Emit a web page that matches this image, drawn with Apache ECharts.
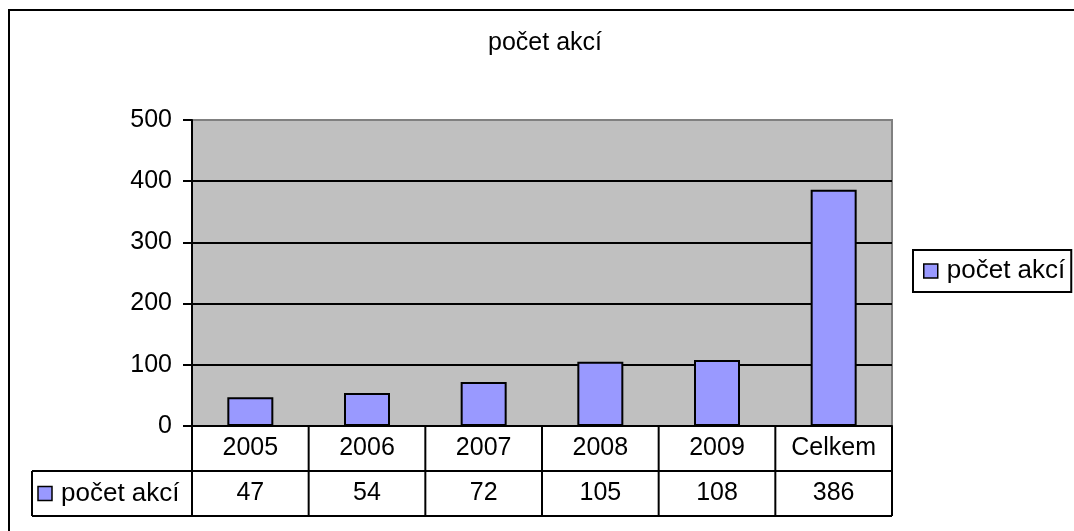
<!DOCTYPE html>
<html lang="cs">
<head>
<meta charset="utf-8" />
<title>počet akcí</title>
<script src="https://cdn.jsdelivr.net/npm/echarts@6/dist/echarts.min.js"></script>
<style>body{margin:0;background:#fff}</style>
</head>
<body>
<div id="box" style="width:1074px;height:531px"></div>
<script>
    // data
    var years = ['2005', '2006', '2007', '2008', '2009', 'Celkem'];
    var counts = [47, 54, 72, 105, 108, 386];
    var seriesName = 'počet akcí';
    var yMin = 0, yMax = 500, yStep = 100;

    var font = "'Liberation Sans', Arial, sans-serif";
    var barColor = '#9999FF';

    var myChart = echarts.init(document.getElementById('box'));
    var option = {
        backgroundColor: '#fff',
        animation: false,
        title: {
            text: seriesName,
            left: 545,
            textAlign: 'center',
            top: 31,
            padding: 0,
            textStyle: { fontFamily: font, fontSize: 25, fontWeight: 'normal', color: '#000' }
        },
        legend: {
            left: 913,
            top: 250,
            padding: [8, 6, 8, 10],
            borderColor: '#000',
            borderWidth: 2,
            itemWidth: 14,
            itemHeight: 14,
            icon: 'rect',
            itemStyle: { borderColor: '#000', borderWidth: 1.5 },
            textStyle: { fontFamily: font, fontSize: 26, color: '#000', padding: [0, 0, 0, 4] },
            data: [seriesName]
        },
        grid: {
            left: 192,
            top: 120,
            width: 700,
            height: 306,
            show: true,
            backgroundColor: '#C0C0C0',
            borderColor: '#808080',
            borderWidth: 2
        },
        xAxis: {
            type: 'category',
            data: years,
            axisLine: { lineStyle: { color: '#000', width: 2 } },
            axisTick: { show: false },
            axisLabel: { show: false }
        },
        yAxis: {
            type: 'value',
            min: yMin,
            max: yMax,
            interval: yStep,
            axisLine: { show: true, lineStyle: { color: '#000', width: 2 } },
            axisTick: { show: true, length: 9, lineStyle: { color: '#000', width: 2 } },
            axisLabel: { margin: 20, fontFamily: font, fontSize: 25, color: '#000' },
            splitLine: { show: true, showMaxLine: false, lineStyle: { color: '#000', width: 2 } }
        },
        series: [{
            name: seriesName,
            type: 'bar',
            barWidth: 46,
            data: counts,
            itemStyle: { color: barColor, borderColor: '#000', borderWidth: 2 }
        }]
    };
    myChart.setOption(option);

    // data table under the plot, placed from the category axis
    var c0 = myChart.convertToPixel({ xAxisIndex: 0 }, years[0]);
    var c1 = myChart.convertToPixel({ xAxisIndex: 0 }, years[1]);
    var band = c1 - c0;
    var x0 = c0 - band / 2;
    var y0 = myChart.convertToPixel({ yAxisIndex: 0 }, 0);
    var rowH = 45;
    var xEnd = x0 + band * years.length;
    var tableLeft = 32;
    var line = { stroke: '#000', lineWidth: 2 };
    var g = [];

    // chart border (top and left visible)
    g.push({ type: 'rect', shape: { x: 9, y: 10, width: 1200, height: 700 }, style: { fill: null, stroke: '#000', lineWidth: 2 }, z: 0 });

    g.push({ type: 'line', shape: { x1: tableLeft, y1: y0 + rowH, x2: xEnd, y2: y0 + rowH }, style: line });
    g.push({ type: 'line', shape: { x1: tableLeft, y1: y0 + 2 * rowH, x2: xEnd, y2: y0 + 2 * rowH }, style: line });
    g.push({ type: 'line', shape: { x1: tableLeft, y1: y0 + rowH, x2: tableLeft, y2: y0 + 2 * rowH }, style: line });
    for (var i = 0; i <= years.length; i++) {
        var x = x0 + band * i;
        g.push({ type: 'line', shape: { x1: x, y1: y0, x2: x, y2: y0 + 2 * rowH }, style: line });
    }
    for (var j = 0; j < years.length; j++) {
        var cx = myChart.convertToPixel({ xAxisIndex: 0 }, years[j]);
        g.push({ type: 'text', x: cx, y: y0 + rowH / 2, style: { text: years[j], font: '25px ' + font, fill: '#000', align: 'center', verticalAlign: 'middle' } });
        g.push({ type: 'text', x: cx, y: y0 + rowH * 1.5, style: { text: String(counts[j]), font: '25px ' + font, fill: '#000', align: 'center', verticalAlign: 'middle' } });
    }
    // legend key inside the table
    g.push({ type: 'rect', shape: { x: 38, y: y0 + rowH * 1.5 - 7, width: 14, height: 14 }, style: { fill: barColor, stroke: '#000', lineWidth: 1.5 } });
    g.push({ type: 'text', x: 61, y: y0 + rowH * 1.5, style: { text: seriesName, font: '26px ' + font, fill: '#000', align: 'left', verticalAlign: 'middle' } });

    myChart.setOption({ graphic: g });
</script>
</body>
</html>
